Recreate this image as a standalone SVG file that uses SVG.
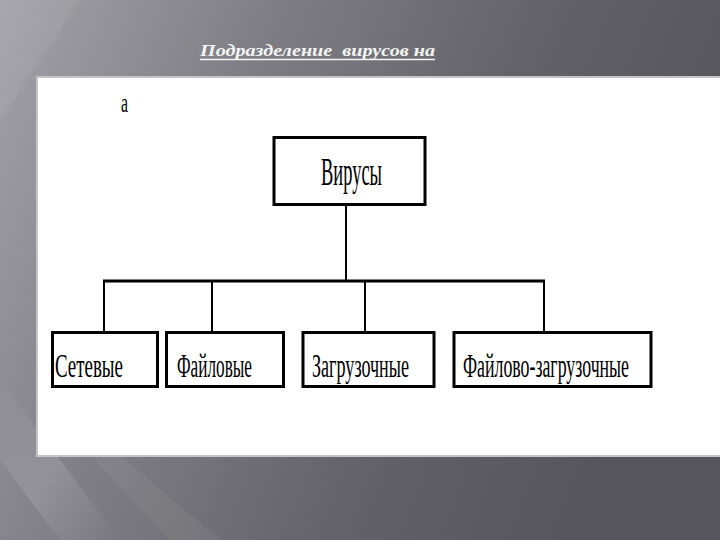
<svg xmlns="http://www.w3.org/2000/svg" width="720" height="540" viewBox="0 0 720 540">
<defs>
<linearGradient id="bg" x1="0" y1="0" x2="1" y2="0.3">
<stop offset="0" stop-color="#a2a2a8"/>
<stop offset="0.35" stop-color="#7e7e84"/>
<stop offset="0.7" stop-color="#626268"/>
<stop offset="1" stop-color="#55555b"/>
</linearGradient>
<linearGradient id="streak" x1="0" y1="0" x2="1" y2="1">
<stop offset="0" stop-color="#ffffff" stop-opacity="0"/>
<stop offset="0.5" stop-color="#ffffff" stop-opacity="0.12"/>
<stop offset="1" stop-color="#ffffff" stop-opacity="0"/>
</linearGradient>
</defs>
<style>
.box{fill:#ffffff;stroke:#000000;stroke-width:3}
.lbl{font-family:"Liberation Serif","Times New Roman",serif;fill:#000000;font-size:18px}
.thin{stroke:#000000;stroke-width:2;fill:none}
.thick{stroke:#000000;stroke-width:3;fill:none}
</style>
<rect x="0" y="0" width="720" height="540" fill="url(#bg)"/>
<polygon points="0,380 120,540 60,540 0,460" fill="url(#streak)"/>
<polygon points="0,0 80,0 0,120" fill="#ffffff" fill-opacity="0.06"/>
<polygon points="120,455 220,540 170,540 90,455" fill="#ffffff" fill-opacity="0.05"/>
<text x="200" y="56" font-family="Liberation Serif, serif" font-size="17" font-weight="bold" font-style="italic" fill="#f4f4f4" textLength="235" lengthAdjust="spacingAndGlyphs" xml:space="preserve">Подразделение  вирусов на</text>
<line x1="200" y1="59.5" x2="435" y2="59.5" stroke="#f4f4f4" stroke-width="1.5"/>
<rect x="37" y="77" width="690" height="379" fill="#ffffff" stroke="#c4c4c8" stroke-width="2"/>
<text class="lbl" transform="translate(121,112) scale(1,2)" style="font-size:14px" textLength="7" lengthAdjust="spacingAndGlyphs">a</text>
<g id="connectors">
<line class="thin" x1="346" y1="206" x2="346" y2="281"/>
<line class="thick" x1="103" y1="281" x2="545" y2="281"/>
<line class="thin" x1="104" y1="281" x2="104" y2="331"/>
<line class="thin" x1="212" y1="281" x2="212" y2="331"/>
<line class="thin" x1="365" y1="281" x2="365" y2="331"/>
<line class="thin" x1="544" y1="281" x2="544" y2="331"/>
</g>
<g id="viruses">
<rect class="box" x="274" y="137.5" width="151" height="67"/>
<text class="lbl" transform="translate(321,185) scale(1,2)" style="font-size:20px" textLength="61" lengthAdjust="spacingAndGlyphs">Вирусы</text>
</g>
<g id="network">
<rect class="box" x="52.5" y="332.5" width="105" height="54"/>
<text class="lbl" transform="translate(55,377) scale(1,1.9)" textLength="68" lengthAdjust="spacingAndGlyphs">Сетевые</text>
</g>
<g id="file">
<rect class="box" x="166.5" y="332.5" width="117" height="54"/>
<text class="lbl" transform="translate(177,377) scale(1,1.9)" textLength="75" lengthAdjust="spacingAndGlyphs">Файловые</text>
</g>
<g id="boot">
<rect class="box" x="303" y="332.5" width="131" height="54"/>
<text class="lbl" transform="translate(312,377) scale(1,1.9)" textLength="97" lengthAdjust="spacingAndGlyphs">Загрузочные</text>
</g>
<g id="fileboot">
<rect class="box" x="454" y="332.5" width="197" height="54"/>
<text class="lbl" transform="translate(463,377) scale(1,1.9)" textLength="166" lengthAdjust="spacingAndGlyphs">Файлово-загрузочные</text>
</g>
</svg>
